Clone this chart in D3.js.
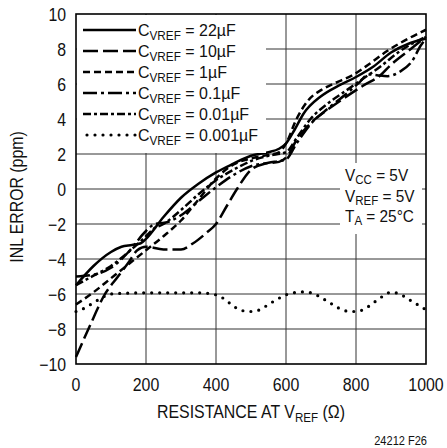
<!DOCTYPE html>
<html><head><meta charset="utf-8">
<script src="https://cdn.jsdelivr.net/npm/d3@7"></script>
<style>
body{margin:0;background:#fff}
text{font-family:"Liberation Sans","Arial",sans-serif;fill:#111}
</style>
</head><body>
<svg id="c" width="447" height="448"></svg>
<script>
// ---- data ----
const xTicks = [0, 200, 400, 600, 800, 1000];
const yTicks = [-10, -8, -6, -4, -2, 0, 2, 4, 6, 8, 10];
const seriesNames = ["22µF", "10µF", "1µF", "0.1µF", "0.01µF", "0.001µF"];

const x22 = [0, 50, 100, 130, 160, 185, 200, 250, 300, 350, 400, 450, 500, 550, 580, 600, 625, 650, 700, 750, 800, 850, 900, 950, 1000];
const y22 = [-5.5, -4.4, -3.6, -3.3, -3.2, -3.1, -2.85, -1.6, -0.5, 0.3, 0.95, 1.45, 1.9, 2.1, 2.3, 2.6, 3.4, 4.3, 5.3, 5.9, 6.4, 7.0, 7.8, 8.3, 8.6];

const x10 = [0, 40, 80, 120, 150, 175, 200, 250, 300, 335, 370, 400, 430, 460, 500, 540, 580, 605, 630, 670, 720, 770, 820, 870, 900, 950, 1000];
const y10 = [-9.6, -7.8, -6.1, -5.0, -4.2, -3.5, -3.3, -3.45, -3.45, -3.1, -2.55, -2.0, -1.0, 0.0, 1.1, 1.45, 1.55, 1.9, 2.8, 3.75, 4.55, 5.25, 5.9, 6.5, 7.1, 7.9, 8.7];

const x1 = [0, 50, 100, 150, 200, 250, 300, 350, 400, 450, 500, 550, 580, 600, 630, 665, 700, 740, 790, 835, 890, 950, 1000];
const y1 = [-6.6, -5.9, -5.1, -4.3, -3.5, -2.7, -1.8, -0.6, 0.6, 1.4, 1.75, 1.95, 2.1, 2.6, 4.0, 5.1, 5.65, 6.05, 6.5, 7.1, 7.9, 8.6, 9.1];

const x01 = [0, 50, 100, 150, 200, 225, 260, 300, 350, 400, 450, 500, 550, 600, 630, 670, 720, 770, 810, 835, 860, 890, 925, 960, 985, 1000];
const y01 = [-5.0, -4.9, -4.5, -3.6, -2.4, -2.0, -1.9, -1.5, -0.7, 0.1, 0.8, 1.3, 1.5, 1.7, 2.6, 3.7, 4.6, 5.4, 6.1, 6.55, 6.5, 6.45, 6.7, 7.3, 8.2, 8.6];

const x001 = [0, 50, 100, 150, 200, 220, 250, 300, 350, 400, 450, 500, 550, 600, 630, 670, 720, 770, 820, 870, 920, 960, 1000];
const y001 = [-5.5, -4.95, -4.4, -3.6, -2.7, -2.3, -2.0, -1.2, -0.3, 0.5, 1.1, 1.6, 1.9, 2.1, 2.9, 4.0, 4.9, 5.6, 6.3, 7.0, 7.8, 8.3, 8.7];

const x0001 = [0, 25, 50, 75, 100, 150, 200, 250, 300, 350, 400, 425, 450, 475, 500, 525, 550, 575, 600, 625, 650, 675, 700, 725, 750, 775, 800, 825, 850, 875, 900, 925, 950, 975, 1000];
const y0001 = [-7.0, -6.8, -6.5, -6.2, -6.0, -5.95, -5.93, -5.93, -5.93, -5.93, -6.05, -6.3, -6.7, -6.95, -7.0, -6.9, -6.6, -6.3, -6.05, -5.92, -5.88, -5.95, -6.2, -6.5, -6.8, -6.98, -7.0, -6.85, -6.5, -6.15, -5.9, -6.0, -6.3, -6.6, -6.9];

// ---- layout ----
const svg = d3.select("#c");
const L = 76, R = 426, T = 14, B = 364;
const x = d3.scaleLinear().domain([0, 1000]).range([L, R]);
const y = d3.scaleLinear().domain([-10, 10]).range([B, T]);

// condensed text helper
function ctext(px, py, size, sx, anchor, rot) {
  return svg.append("text")
    .attr("transform", `translate(${px},${py})` + (rot ? ` rotate(${rot})` : "") + ` scale(${sx},1)`)
    .attr("text-anchor", anchor || "start").attr("font-size", size);
}

// gridlines
const g = svg.append("g");
g.selectAll(".vg").data(xTicks.slice(1, -1)).join("line")
  .attr("x1", d => x(d)).attr("x2", d => x(d)).attr("y1", T).attr("y2", B)
  .attr("stroke", "#333").attr("stroke-width", 1);
g.selectAll(".hg").data(yTicks.slice(1, -1)).join("line")
  .attr("x1", L).attr("x2", R).attr("y1", d => y(d)).attr("y2", d => y(d))
  .attr("stroke", "#333").attr("stroke-width", 1);

// curves
const series = [
  {xs: x22, ys: y22, dash: null},
  {xs: x10, ys: y10, dash: "15,5"},
  {xs: x1, ys: y1, dash: "7,4"},
  {xs: x01, ys: y01, dash: "14,4,3,4"},
  {xs: x001, ys: y001, dash: "8,3,3,3"},
  {xs: x0001, ys: y0001, dash: "0,8"}
];
const line = d3.line().x(d => x(d[0])).y(d => y(d[1])).curve(d3.curveMonotoneX);
const plot = svg.append("g");
series.forEach((s, i) => {
  const pts = s.xs.map((v, j) => [v, s.ys[j]]);
  plot.append("path").attr("d", line(pts)).attr("fill", "none")
    .attr("stroke", "#000")
    .attr("stroke-width", i === 5 ? 3.2 : 2.5)
    .attr("stroke-linecap", i === 5 ? "round" : "butt")
    .attr("stroke-dasharray", s.dash);
});

// legend box
svg.append("rect").attr("x", L + 1).attr("y", T + 1).attr("width", 189).attr("height", 138).attr("fill", "#fff");
const legY0 = 30, legDy = 21;
series.forEach((s, i) => {
  const yy = legY0 + i * legDy;
  svg.append("line").attr("x1", 83).attr("x2", 136).attr("y1", yy).attr("y2", yy)
    .attr("stroke", "#000").attr("stroke-width", i === 5 ? 3.2 : 2.6)
    .attr("stroke-linecap", i === 5 ? "round" : "butt")
    .attr("stroke-dasharray", i === 5 ? "0,8" : s.dash)
    .attr("stroke-dashoffset", i === 5 ? -4 : 0);
  const t = ctext(138, yy + 6, 17, 0.94);
  t.append("tspan").text("C");
  t.append("tspan").attr("font-size", 12.5).attr("dy", 3.5).text("VREF");
  t.append("tspan").attr("dy", -3.5).text(" = " + seriesNames[i]);
});

// condition box
svg.append("rect").attr("x", 340).attr("y", 163).attr("width", 82).attr("height", 71).attr("fill", "#fff");
const cond = [["V", "CC", " = 5V"], ["V", "REF", " = 5V"], ["T", "A", " = 25°C"]];
cond.forEach((c, i) => {
  const t = ctext(345, 181 + i * 20.5, 16, 0.96);
  t.append("tspan").text(c[0]);
  t.append("tspan").attr("font-size", 12).attr("dy", 3).text(c[1]);
  t.append("tspan").attr("dy", -3).text(c[2]);
});

// frame
svg.append("rect").attr("x", L).attr("y", T).attr("width", R - L).attr("height", B - T)
  .attr("fill", "none").attr("stroke", "#000").attr("stroke-width", 1.6);

// axes labels
const fmt = d => (d < 0 ? "\u2212" + Math.abs(d) : String(d));
yTicks.forEach(d => ctext(66, y(d) + 6.5, 18, 0.88, "end").text(fmt(d)));
xTicks.forEach(d => ctext(x(d), 391, 18.5, 0.86, "middle").text(String(d)));

const xt = ctext(251, 418, 18.5, 0.86, "middle");
xt.append("tspan").text("RESISTANCE AT V");
xt.append("tspan").attr("font-size", 13.5).attr("dy", 4).text("REF");
xt.append("tspan").attr("dy", -4).text(" (\u03A9)");

ctext(23, 197, 18, 0.88, "middle", -90).text("INL ERROR (ppm)");

ctext(427, 445, 13, 0.85, "end").text("24212 F26");
</script>
</body></html>
